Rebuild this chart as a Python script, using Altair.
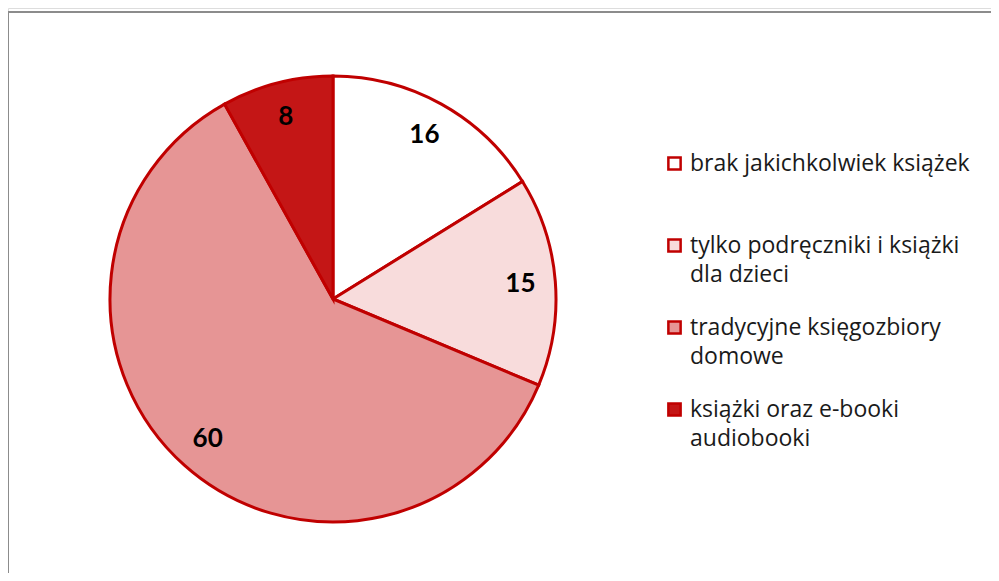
import altair as alt
import pandas as pd

categories = [
    "brak jakichkolwiek książek|",
    "\u2005tylko podręczniki i książki|dla dzieci",
    "tradycyjne księgozbiory|domowe",
    "\u2005książki oraz e-booki|audiobooki",
]
values = [16, 15, 60, 8]
fills = ["#ffffff", "#f8dcdc", "#e69595", "#c41616"]

df = pd.DataFrame({"cat": categories, "val": values, "ord": list(range(len(values)))})

W, H = 983, 565

color = alt.Color(
    "cat:N",
    scale=alt.Scale(domain=categories, range=fills),
    sort=categories,
    legend=alt.Legend(
        title=None,
        orient="none",
        legendX=655,
        legendY=144,
        labelExpr="split(datum.label, '|')",
        labelFont="Open Sans",
        labelFontSize=23,
        labelColor="#1a1a1a",
        labelLimit=400,
        symbolType="square",
        symbolSize=150,
        symbolStrokeColor="#c00000",
        symbolStrokeWidth=2.5,
        rowPadding=29,
        labelOffset=4,
    ),
)

base = alt.Chart(df).encode(
    theta=alt.Theta("val:Q", stack=True),
    order=alt.Order("ord:Q"),
)

pie = base.mark_arc(outerRadius=223, stroke="#c00000", strokeWidth=3).encode(
    color=color,
    x=alt.value(325),
    y=alt.value(291),
)

labels = base.mark_text(
    radius=188, fontSize=26, fontWeight="bold", font="Lato", color="#000000"
).encode(
    text=alt.Text("val:Q"),
    x=alt.value(325),
    y=alt.value(291),
)

frame_df = pd.DataFrame({"a": [0]})
vline = alt.Chart(frame_df).mark_rule(color="#8c8c8c", strokeWidth=2).encode(
    x=alt.value(0), y=alt.value(4), y2=alt.value(H)
)
hline = alt.Chart(frame_df).mark_rule(color="#8c8c8c", strokeWidth=2).encode(
    x=alt.value(0), x2=alt.value(W), y=alt.value(4)
)

chart = alt.layer(vline, hline, pie, labels).properties(
    width=W, height=H, padding=0, autosize=alt.AutoSizeParams(type="none")
).configure_view(stroke=None).configure(
    background="white", style={"guide-label": {"lineHeight": 29}}
)

chart.save("out.html", embed_options={"renderer": "svg", "actions": False})
